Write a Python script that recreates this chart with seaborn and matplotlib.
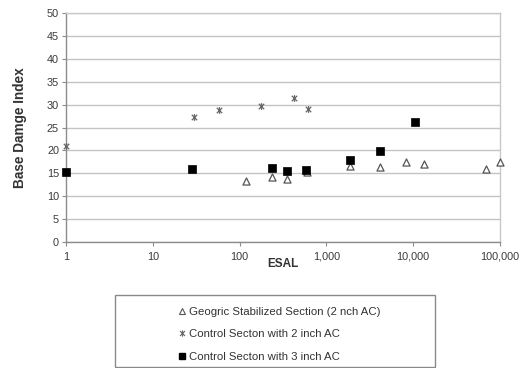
import numpy as np
import pandas as pd
import matplotlib
matplotlib.use("Agg")
import matplotlib.pyplot as plt
from matplotlib.path import Path
from matplotlib.patches import Rectangle
from matplotlib.lines import Line2D
from matplotlib.ticker import FixedLocator, FixedFormatter, NullLocator
import seaborn as sns

# Geogrid stabilized section (2 inch AC)
geo_esal = [117, 236, 351, 600, 1870, 4150, 8200, 13400, 69000, 100000]
geo_index = [13.4, 14.1, 13.7, 15.3, 16.5, 16.3, 17.4, 17.0, 16.0, 17.5]

# Control section with 2 inch AC
c2_esal = [1, 30, 58, 175, 420, 615]
c2_index = [21.0, 27.3, 28.8, 29.6, 31.4, 29.0]

# Control section with 3 inch AC
c3_esal = [1, 28, 236, 351, 588, 1870, 4150, 10600]
c3_index = [15.2, 15.9, 16.1, 15.6, 15.75, 17.8, 19.8, 26.3]

series_labels = [
    "Geogric Stabilized Section (2 nch AC)",
    "Control Secton with 2 inch AC",
    "Control Secton with 3 inch AC",
]
x_ticks = [1, 10, 100, 1000, 10000, 100000]
x_tick_labels = ["1", "10", "100", "1,000", "10,000", "100,000"]
y_ticks = list(range(0, 51, 5))

sns.set_theme(style="white")
plt.rcParams["font.family"] = ["Liberation Sans", "DejaVu Sans"]

# asterisk-like marker: an x crossed by a vertical bar
star_path = Path(
    [(-1, -1), (1, 1), (-1, 1), (1, -1), (0, -1.25), (0, 1.25)],
    [Path.MOVETO, Path.LINETO, Path.MOVETO, Path.LINETO, Path.MOVETO, Path.LINETO],
)

fig = plt.figure(figsize=(5.32, 3.68), dpi=100)
ax = fig.add_axes([66 / 532, 1 - 242 / 368, 434 / 532, 229 / 368])

df_geo = pd.DataFrame({"ESAL": geo_esal, "BDI": geo_index})
df_c2 = pd.DataFrame({"ESAL": c2_esal, "BDI": c2_index})
df_c3 = pd.DataFrame({"ESAL": c3_esal, "BDI": c3_index})

sns.scatterplot(data=df_geo, x="ESAL", y="BDI", ax=ax, marker="^", s=26,
                facecolor="white", edgecolor="#555555", linewidth=0.9,
                zorder=3, clip_on=False)
sns.scatterplot(data=df_c2, x="ESAL", y="BDI", ax=ax, marker=star_path, s=24,
                color="#666666", edgecolor="#666666", linewidth=0.9,
                zorder=3, clip_on=False)
sns.scatterplot(data=df_c3, x="ESAL", y="BDI", ax=ax, marker="s", s=30,
                color="black", edgecolor="black", linewidth=0.5,
                zorder=4, clip_on=False)

ax.set_xscale("log")
ax.set_xlim(1, 100000)
ax.set_ylim(0, 50)
ax.xaxis.set_major_locator(FixedLocator(x_ticks))
ax.xaxis.set_major_formatter(FixedFormatter(x_tick_labels))
ax.xaxis.set_minor_locator(NullLocator())
ax.set_yticks(y_ticks)

ax.grid(axis="y", color="#c4c4c4", linewidth=1.0)
ax.set_axisbelow(True)
for side in ["top", "right"]:
    ax.spines[side].set_color("#c8c8c8")
    ax.spines[side].set_linewidth(1.0)
for side in ["left", "bottom"]:
    ax.spines[side].set_color("#8c8c8c")
    ax.spines[side].set_linewidth(1.0)

ax.tick_params(axis="both", which="major", direction="out", length=3,
               width=0.8, color="#8c8c8c", labelsize=7.8, labelcolor="#3a3a3a")
ax.tick_params(axis="y", left=True, pad=2)
ax.tick_params(axis="x", bottom=True, pad=4)

ax.set_xlabel("ESAL", fontsize=8.5, fontweight="bold", color="#333333")
ax.set_ylabel("Base Damge Index", fontsize=9.8, fontweight="bold", color="#333333")
ax.xaxis.set_label_coords(0.5, -0.068)
ax.yaxis.set_label_coords(-0.09, 0.5)

# legend box with the entries inside
fig.patches.append(Rectangle((115 / 532, 1 - 367 / 368), 320 / 532, 72 / 368,
                             transform=fig.transFigure, facecolor="white",
                             edgecolor="#8a8a8a", linewidth=1.0))
handles = [
    Line2D([], [], linestyle="none", marker="^", markersize=4.5,
           markerfacecolor="white", markeredgecolor="#555555", markeredgewidth=0.8),
    Line2D([], [], linestyle="none", marker=star_path, markersize=4.5,
           color="#666666", markeredgewidth=0.8),
    Line2D([], [], linestyle="none", marker="s", markersize=4.5,
           color="black"),
]
fig.legend(handles, series_labels, loc="upper left",
           bbox_to_anchor=(172 / 532, 1 - 301.5 / 368), frameon=False,
           fontsize=8.2, handlelength=0.7, handletextpad=0.25,
           labelspacing=1.07, borderpad=0, labelcolor="#333333")

fig.savefig("out.png", dpi=100, facecolor="white")
